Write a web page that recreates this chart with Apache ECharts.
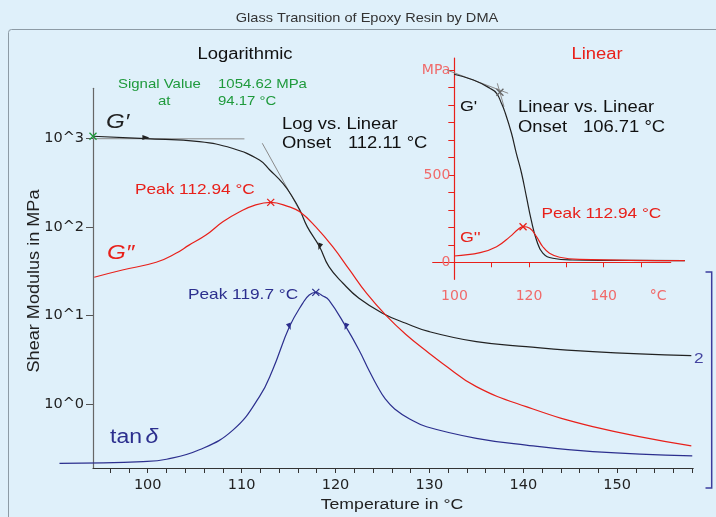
<!DOCTYPE html>
<html><head><meta charset="utf-8">
<script src="https://cdn.jsdelivr.net/npm/echarts@6/dist/echarts.min.js"></script>
<style>html,body{margin:0;padding:0;background:#dff0fa}#c{width:716px;height:517px}</style>
</head><body><div id="c"></div>
<script>
// ---------------- data ----------------
const titleText = 'Glass Transition of Epoxy Resin by DMA';

// main (logarithmic) plot
const gPrimeT = [94.17, 99.8, 105.5, 109.0, 111.9, 113.0, 114.4, 115.4, 116.2, 117.0, 118.3, 119.3, 120.8, 122.5, 125.0, 127.5, 130.0, 135.0, 140.3, 147.4, 157.9];
const gPrimeV = [1054.6, 990, 916, 771, 569, 439, 310, 219, 155, 100, 59.7, 35.5, 23.1, 15.6, 10.6, 8.15, 6.55, 5.05, 4.44, 3.90, 3.51];

const gDoubleT = [94.3, 97.3, 100.9, 103.0, 104.4, 106.2, 108.0, 109.8, 111.5, 113.1, 115.0, 116.2, 117.9, 119.7, 121.5, 123.3, 125.4, 127.5, 130.0, 131.4, 135.0, 140.3, 147.4, 157.9];
const gDoubleV = [27.0, 32.6, 39.8, 50.3, 62.2, 80.8, 114, 148, 177, 189, 169, 148, 100, 59.7, 32.6, 17.8, 9.93, 6.09, 3.72, 2.87, 1.57, 0.933, 0.555, 0.336];

const tanDT = [90.6, 99.5, 102.0, 105.5, 109.1, 111.9, 113.3, 115.1, 116.5, 117.2, 117.9, 118.6, 119.3, 121.1, 122.5, 123.6, 124.5, 125.3, 126.3, 127.9, 129.7, 135.0, 140.3, 147.4, 158.0];
const tanDV = [0.0107, 0.0112, 0.0119, 0.0152, 0.0255, 0.0605, 0.121, 0.374, 0.685, 0.85, 0.91, 0.836, 0.745, 0.374, 0.204, 0.118, 0.0778, 0.057, 0.044, 0.0339, 0.0277, 0.0205, 0.0172, 0.0145, 0.0130];

// tangent lines (main)
const tanFlatT = [94.17, 110.3];
const tanFlatV = [990, 985];
const tanSteepT = [112.2, 116.3];
const tanSteepV = [879, 145];

// inset (linear) plot
const inGPrimeT = [99.9, 105.1, 109.5, 111.3, 112.6, 113.5, 115.3, 116.6, 118.0, 119.3, 120.6, 122.0, 123.7, 126.4, 131.7, 142.4, 161.8];
const inGPrimeV = [1077, 1044, 997, 968, 911, 863, 739, 624, 510, 376, 242, 128, 52, 23, 13, 11, 9];
const inGDoubleT = [99.9, 106.9, 111.3, 114.9, 117.1, 118.4, 120.2, 122.0, 123.7, 125.5, 128.2, 133.5, 161.8];
const inGDoubleV = [36, 55, 89, 147, 189, 204, 195, 147, 89, 52, 29, 17, 9];
const inTan1T = [98.0, 114.4];
const inTan1V = [1101, 968];
const inTan2T = [111.5, 113.3];
const inTan2V = [1025, 891];

// ticks / labels
const mainXTicks = [96,98,100,102,104,106,108,110,112,114,116,118,120,122,124,126,128,130,132,134,136,138,140,142,144,146,148,150,152,154,156,158];
const mainXLabels = [100, 110, 120, 130, 140, 150];
const mainYTicks = [1, 10, 100, 1000];
const inXTicks = [100, 110, 120, 130, 140, 150];
const inXLabels = [100, 120, 140, 154.6];
const inYTicks = [0,100,200,300,400,500,600,700,800,900,1000,1100];
const inYLabels = [0, 500, 1100];

// ---------------- chart ----------------
const FONT = '"Liberation Sans", Arial, sans-serif';
const NUMFONT = '"DejaVu Sans", sans-serif';
const BLACK = '#222', RED = '#e8201a', BLUE = '#2c2f8e', GREEN = '#1f9a3c', GRAY = '#8a8a8a';
const SALMON = '#f06a6a';
const pair = (xs, ys) => xs.map((x, i) => [x, ys[i]]);
const cross = 'path://M0,0L10,10M10,0L0,10';
const SX = 1.15;
const SM = 0.45;

// geometry of the main plot (pixels) and x scale
const PX_PER_C = 9.388;
const MAIN_LEFT = 93, MAIN_TOP = 88.3, MAIN_W = 600.2, MAIN_H = 379.7;
const IN_LEFT = 432.7, IN_TOP = 58, IN_W = 238, IN_H = 221.3, IN_PX_PER_C = 238 / (158 - 94.17);

function txt(x, y, text, size, color, opt) {
  opt = opt || {};
  return {
    type: 'text', x: x, y: y, scaleX: opt.sx || SX, rotation: opt.rot || 0, z: 100,
    style: {
      x: 0, y: 0, text: text, fontSize: size, fontFamily: FONT, fill: color,
      fontStyle: opt.italic ? 'italic' : 'normal',
      align: opt.align || 'left', verticalAlign: 'middle', rich: opt.rich
    }
  };
}
function xMark(coord, color) {
  return { coord: coord, symbol: cross, symbolSize: 7,
    itemStyle: { color: 'none', borderColor: color, borderWidth: 1.3 }, label: { show: false } };
}
function triMark(coord, color, rot) {
  return { coord: coord, symbol: 'triangle', symbolSize: [5, 7], symbolRotate: rot,
    itemStyle: { color: color }, label: { show: false } };
}
const hiddenX = (grid, min, max) => ({ gridIndex: grid, type: 'value', min: min, max: max, show: false, splitLine: { show: false } });

const chart = echarts.init(document.getElementById('c'));
const option = {
  animation: false,
  backgroundColor: '#dff0fa',
  textStyle: { fontFamily: FONT },
  grid: [
    { left: MAIN_LEFT, top: MAIN_TOP, width: MAIN_W, height: MAIN_H },
    { left: IN_LEFT, top: IN_TOP, width: IN_W, height: IN_H },
    // wider twin of the main grid so tan δ can run left of the axis
    { left: MAIN_LEFT - 40, top: MAIN_TOP, width: MAIN_W + 40, height: MAIN_H },
    // wider twin of the inset grid so its curves can run past the axis end
    { left: IN_LEFT, top: IN_TOP, width: IN_W + 20, height: IN_H }
  ],
  xAxis: [
    { gridIndex: 0, type: 'value', min: 94.17, max: 158.1,
      axisLine: { lineStyle: { color: '#333', width: 1.2 } },
      axisTick: { customValues: mainXTicks, length: 5, lineStyle: { color: '#333' } },
      axisLabel: { customValues: mainXLabels, fontSize: 14.5, fontFamily: NUMFONT, color: '#222', margin: 10 },
      splitLine: { show: false } },
    { gridIndex: 1, type: 'value', min: 94.17, max: 158,
      axisLine: { lineStyle: { color: RED, width: 1.2 } },
      axisTick: { customValues: inXTicks, length: 5, lineStyle: { color: RED } },
      axisLabel: { customValues: inXLabels, formatter: v => (v > 150 ? '°C' : String(v)),
        fontSize: 14, fontFamily: NUMFONT, color: SALMON, margin: 10 },
      splitLine: { show: false } },
    hiddenX(2, 94.17 - 40 / PX_PER_C, 158.1),
    hiddenX(3, 94.17, 158 + 20 / IN_PX_PER_C)
  ],
  yAxis: [
    { gridIndex: 0, type: 'log', logBase: 10, min: 0.1894, max: 3668,
      axisLine: { show: true, lineStyle: { color: '#666', width: 1.2 } },
      axisTick: { show: true, customValues: mainYTicks, length: 7, lineStyle: { color: '#555' } },
      axisLabel: { customValues: mainYTicks, formatter: v => '10^' + Math.round(Math.log10(v)),
        fontSize: 14.5, fontFamily: NUMFONT, color: '#222', margin: 9 },
      splitLine: { show: false }, minorTick: { show: false } },
    { gridIndex: 2, type: 'log', logBase: 10, min: 0.1894 / 20, max: 3668 / 20, show: false, splitLine: { show: false } },
    { gridIndex: 1, type: 'value', min: -97.4, max: 1170, offset: -21.6,
      axisLine: { show: true, lineStyle: { color: RED, width: 1.2 } },
      axisTick: { show: true, customValues: inYTicks, length: 6, lineStyle: { color: RED } },
      axisLabel: { customValues: inYLabels, formatter: v => (v === 1100 ? 'MPa' : String(v)),
        fontSize: 14, fontFamily: NUMFONT, color: SALMON, margin: 4 },
      splitLine: { show: false } },
    { gridIndex: 3, type: 'value', min: -97.4, max: 1170, show: false, splitLine: { show: false } }
  ],
  series: [
    { name: "G'", type: 'line', xAxisIndex: 0, yAxisIndex: 0, data: pair(gPrimeT, gPrimeV),
      showSymbol: false, smooth: SM, lineStyle: { color: BLACK, width: 1.2 },
      markPoint: { data: [xMark([94.17, 1054.6], GREEN), triMark([99.8, 1020], BLACK, -90), triMark([118.3, 59.7], BLACK, 160)] } },
    { name: 'G"', type: 'line', xAxisIndex: 0, yAxisIndex: 0, data: pair(gDoubleT, gDoubleV),
      showSymbol: false, smooth: SM, lineStyle: { color: RED, width: 1.2 },
      markPoint: { data: [xMark([113.1, 189], RED)] } },
    { name: 'tanδ', type: 'line', xAxisIndex: 2, yAxisIndex: 1, data: pair(tanDT, tanDV),
      showSymbol: false, smooth: SM, lineStyle: { color: BLUE, width: 1.2 },
      markPoint: { data: [xMark([117.9, 0.91], BLUE), triMark([115.1, 0.374], BLUE, 200), triMark([121.1, 0.374], BLUE, 160)] } },
    { name: 'tangent flat', type: 'line', xAxisIndex: 0, yAxisIndex: 0, data: pair(tanFlatT, tanFlatV),
      showSymbol: false, lineStyle: { color: GRAY, width: 1 }, z: 1 },
    { name: 'tangent steep', type: 'line', xAxisIndex: 0, yAxisIndex: 0, data: pair(tanSteepT, tanSteepV),
      showSymbol: false, lineStyle: { color: GRAY, width: 1 }, z: 1 },
    { name: "inset G'", type: 'line', xAxisIndex: 3, yAxisIndex: 3, data: pair(inGPrimeT, inGPrimeV),
      showSymbol: false, smooth: SM, lineStyle: { color: BLACK, width: 1.2 },
      markPoint: { data: [xMark([112.2, 974], '#666')] } },
    { name: 'inset G"', type: 'line', xAxisIndex: 3, yAxisIndex: 3, data: pair(inGDoubleT, inGDoubleV),
      showSymbol: false, smooth: SM, lineStyle: { color: RED, width: 1.2 },
      markPoint: { data: [xMark([118.4, 204], RED)] } },
    { name: 'inset tangent 1', type: 'line', xAxisIndex: 3, yAxisIndex: 3, data: pair(inTan1T, inTan1V),
      showSymbol: false, lineStyle: { color: GRAY, width: 1 }, z: 1 },
    { name: 'inset tangent 2', type: 'line', xAxisIndex: 3, yAxisIndex: 3, data: pair(inTan2T, inTan2V),
      showSymbol: false, lineStyle: { color: GRAY, width: 1 }, z: 1 }
  ],
  graphic: [
    { type: 'rect', shape: { x: 8.5, y: 29.5, width: 800, height: 600, r: 3 },
      style: { fill: 'none', stroke: '#8d9ba5', lineWidth: 1 }, z: 0 },
    { type: 'polyline', shape: { points: [[705.5, 272], [711.7, 272], [711.7, 488], [705.5, 488]] },
      style: { fill: 'none', stroke: '#3d3d9e', lineWidth: 1.5 }, z: 10 },
    txt(367, 18, titleText, 13, '#333', { align: 'center', sx: 1.12 }),
    txt(245, 55, 'Logarithmic', 16, '#111', { align: 'center' }),
    txt(597, 55, 'Linear', 16, RED, { align: 'center' }),
    txt(118, 84.5, 'Signal Value', 13, GREEN),
    txt(218, 84.5, '1054.62 MPa', 13, GREEN),
    txt(158, 101, 'at', 13, GREEN),
    txt(218, 101, '94.17 °C', 13, GREEN),
    txt(106, 122, 'G′', 21, BLACK, { italic: true }),
    txt(282, 125, 'Log vs. Linear', 16, '#111'),
    txt(282, 143.5, 'Onset', 16, '#111'),
    txt(348, 143.5, '112.11 °C', 16, '#111'),
    txt(460, 107, "G'", 15.5, '#111'),
    txt(518, 108, 'Linear vs. Linear', 16, '#111'),
    txt(518, 127.5, 'Onset', 16, '#111'),
    txt(583, 127.5, '106.71 °C', 16, '#111'),
    txt(541.5, 213.5, 'Peak 112.94 °C', 15, RED),
    txt(460, 237.5, "G''", 15.5, RED),
    txt(135, 190, 'Peak 112.94 °C', 15, RED),
    txt(107, 253, 'G″', 21, RED, { italic: true }),
    txt(188, 295, 'Peak 119.7 °C', 15, BLUE),
    txt(110, 437, '{a|tan}{b|δ}', 20, BLUE, { rich: { a: { fontSize: 20, fill: BLUE, fontFamily: FONT }, b: { fontSize: 20, fill: BLUE, fontStyle: 'italic', fontFamily: FONT, padding: [0, 0, 0, 3] } } }),
    txt(694, 359, '2', 15, '#4444a0'),
    txt(392, 505, 'Temperature in °C', 15.5, '#222', { align: 'center', sx: 1.14 }),
    txt(35, 281, 'Shear Modulus in MPa', 16, '#222', { align: 'center', rot: Math.PI / 2, sx: 1.13 })
  ]
};
chart.setOption(option);
</script>
</body></html>
